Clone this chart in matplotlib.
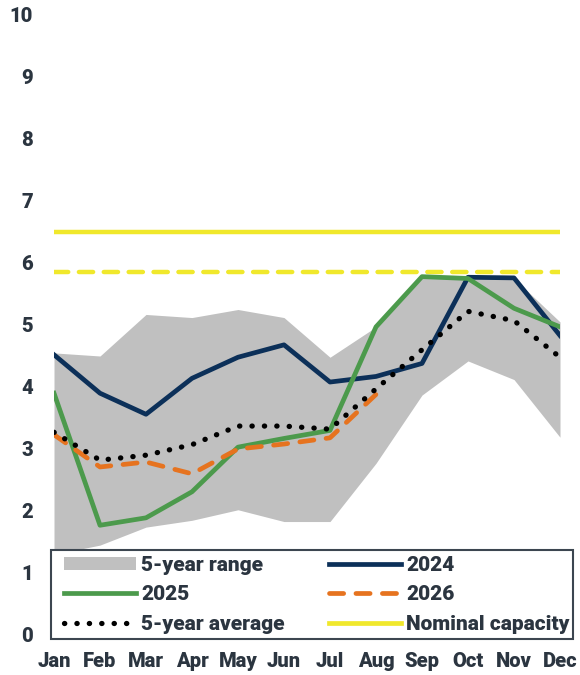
import matplotlib
matplotlib.use("Agg")
import matplotlib.pyplot as plt
from matplotlib.patches import Patch, Rectangle
from matplotlib.lines import Line2D

months = ["Jan", "Feb", "Mar", "Apr", "May", "Jun", "Jul", "Aug", "Sep", "Oct", "Nov", "Dec"]
range_low = [1.3, 1.45, 1.74, 1.85, 2.02, 1.83, 1.83, 2.77, 3.87, 4.42, 4.12, 3.19]
range_high = [4.55, 4.5, 5.17, 5.12, 5.25, 5.12, 4.48, 4.97, 5.8, 5.8, 5.75, 5.05]
y2024 = [4.52, 3.9, 3.56, 4.14, 4.48, 4.68, 4.08, 4.17, 4.38, 5.77, 5.76, 4.83]
y2025 = [3.9, 1.77, 1.89, 2.31, 3.03, 3.17, 3.3, 4.97, 5.78, 5.75, 5.27, 4.97]
y2026 = [3.23, 2.71, 2.79, 2.6, 3.0, 3.08, 3.18, 3.88]
avg5 = [3.27, 2.82, 2.9, 3.07, 3.37, 3.37, 3.32, 3.97, 4.6, 5.22, 5.07, 4.48]
nominal_capacity = 6.5
effective_capacity = 5.85
yticks = [0, 1, 2, 3, 4, 5, 6, 7, 8, 9, 10]

NAVY = "#0c3059"
GREEN = "#4c9a4c"
ORANGE = "#e6731f"
YELLOW = "#f0e82c"
GRAY = "#c0c0c0"
TEXT = "#2b3540"

plt.rcParams["font.family"] = ["Roboto", "DejaVu Sans"]
plt.rcParams["font.weight"] = "heavy"

W, H = 580, 675
fig = plt.figure(figsize=(W/100, H/100), dpi=100)
ax = fig.add_axes([54/W, 40/H, 506/W, 620/H])

x = list(range(len(months)))
ax.fill_between(x, range_low, range_high, color=GRAY, lw=0, zorder=1)
ax.plot(x, [nominal_capacity]*len(x), color=YELLOW, lw=3.2, solid_capstyle="butt", zorder=2)
ax.plot(x, [effective_capacity]*len(x), color=YELLOW, lw=3.2, dashes=(3.2, 2.4),
        dash_capstyle="round", zorder=2)
ax.plot(x, y2024, color=NAVY, lw=3.4, zorder=3)
ax.plot(x, y2025, color=GREEN, lw=3.4, zorder=4)
ax.plot(x[:len(y2026)], y2026, color=ORANGE, lw=3.4, dashes=(3.0, 2.6),
        dash_capstyle="round", zorder=5)
ax.plot(x, avg5, color="black", lw=3.8, dashes=(0.05, 2.3),
        dash_capstyle="round", zorder=6)

ax.set_xlim(0, 11)
ax.set_ylim(0, 10)
ax.set_xticks(x)
ax.set_xticklabels(months)
ax.set_yticks(yticks)
ax.tick_params(length=0, labelsize=14.5, labelcolor=TEXT)
ax.tick_params(axis="y", pad=15)
ax.tick_params(axis="x", pad=12)
for lbl in ax.get_xticklabels() + ax.get_yticklabels():
    lbl.set_fontweight("heavy")
for s in ax.spines.values():
    s.set_visible(False)

# legend frame
frame = Rectangle((51/W, (H-639)/H), 522/W, 89/H, transform=fig.transFigure,
                  facecolor="white", edgecolor="#3c4650", lw=1.5, zorder=9)
fig.patches.append(frame)

handles = [
    Patch(facecolor=GRAY, edgecolor="none"),
    Line2D([], [], color=GREEN, lw=3.4),
    Line2D([], [], color="black", lw=3.8, dashes=(0.05, 2.3), dash_capstyle="round"),
    Line2D([], [], color=NAVY, lw=3.4),
    Line2D([], [], color=ORANGE, lw=3.4, dashes=(3.0, 2.6), dash_capstyle="round"),
    Line2D([], [], color=YELLOW, lw=3.4),
]
labels = ["5-year range", "2025", "5-year average", "2024", "2026", "Nominal capacity"]
fs = 15
leg = fig.legend(handles, labels, ncol=2,
                 bbox_to_anchor=(64/W, (H-556)/H), loc="upper left",
                 frameon=False, handlelength=52/fs, handleheight=0.6,
                 handletextpad=0.25, labelspacing=0.5, borderaxespad=0, borderpad=0,
                 columnspacing=44*0.72/fs, prop={"weight": "heavy", "size": fs})
leg.set_zorder(10)
for t in leg.get_texts():
    t.set_color(TEXT)

fig.savefig("out.png", dpi=100)
